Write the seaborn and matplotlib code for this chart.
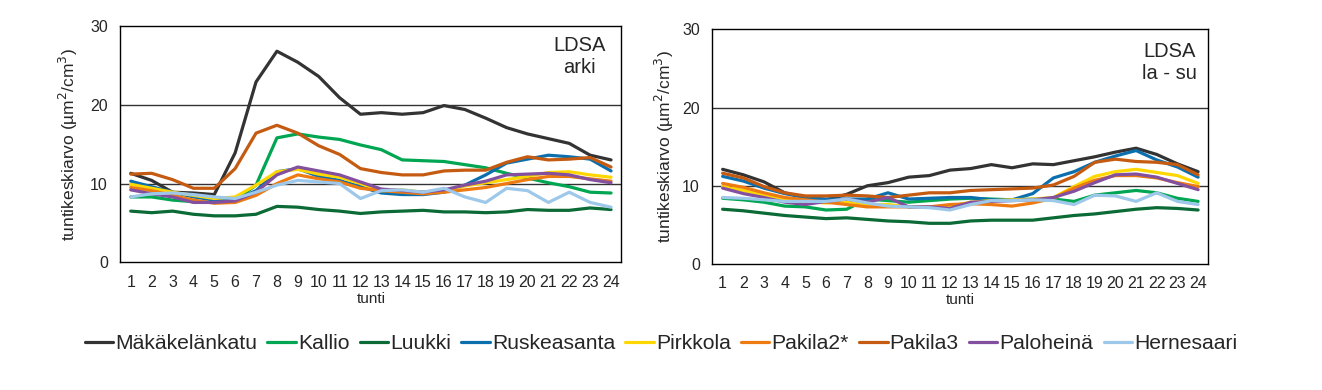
import pandas as pd
import matplotlib
matplotlib.use("Agg")
import matplotlib.pyplot as plt
import seaborn as sns

# hourly means, weekdays (arki) and weekends (la - su)
hours = list(range(1, 25))
stations = ["Mäkäkelänkatu", "Kallio", "Luukki", "Ruskeasanta", "Pirkkola",
            "Pakila2*", "Pakila3", "Paloheinä", "Hernesaari"]
colors = ["#333333", "#00a651", "#0b6a35", "#0b6fae", "#ffd700",
          "#ee7a12", "#c55a11", "#8350a0", "#9dc8ea"]

mak_arki = [11.3, 10.4, 8.9, 8.8, 8.6, 13.9, 22.9, 26.8, 25.4, 23.6, 20.9, 18.8,
            19.0, 18.8, 19.0, 19.9, 19.4, 18.3, 17.1, 16.3, 15.7, 15.1, 13.6, 13.0]
kallio_arki = [8.3, 8.3, 7.9, 7.7, 7.6, 7.9, 9.8, 15.8, 16.3, 15.9, 15.6, 14.9,
               14.3, 13.0, 12.9, 12.8, 12.4, 12.0, 11.3, 10.7, 10.1, 9.6, 8.9, 8.8]
luukki_arki = [6.5, 6.3, 6.5, 6.1, 5.9, 5.9, 6.1, 7.1, 7.0, 6.7, 6.5, 6.2,
               6.4, 6.5, 6.6, 6.4, 6.4, 6.3, 6.4, 6.7, 6.6, 6.6, 6.9, 6.7]
rusk_arki = [10.3, 9.6, 8.9, 8.3, 7.9, 7.9, 9.1, 11.5, 11.9, 10.9, 10.4, 9.6,
             8.8, 8.6, 8.6, 8.9, 9.8, 11.1, 12.6, 13.1, 13.6, 13.4, 13.1, 11.6]
pirk_arki = [9.9, 9.4, 8.9, 8.5, 8.1, 8.3, 9.8, 11.5, 11.8, 11.2, 10.8, 10.0,
             9.1, 9.2, 8.9, 9.0, 9.7, 10.1, 10.5, 10.9, 11.4, 11.5, 11.1, 10.8]
pak2_arki = [9.5, 9.1, 8.5, 7.9, 7.5, 7.6, 8.5, 10.0, 11.1, 10.6, 10.2, 9.4,
             9.1, 8.9, 8.7, 8.9, 9.2, 9.5, 10.0, 10.5, 10.9, 10.9, 10.6, 10.3]
pak3_arki = [11.2, 11.3, 10.5, 9.4, 9.4, 11.9, 16.4, 17.4, 16.4, 14.8, 13.7, 11.9,
             11.4, 11.1, 11.1, 11.6, 11.7, 11.7, 12.7, 13.4, 13.0, 13.1, 13.3, 12.1]
palo_arki = [9.2, 8.7, 8.3, 7.6, 7.6, 7.8, 8.9, 11.1, 12.1, 11.6, 11.1, 10.2,
             9.3, 9.1, 8.9, 9.2, 9.8, 10.3, 11.1, 11.2, 11.3, 11.1, 10.5, 10.1]
hern_arki = [8.3, 8.7, 8.8, 8.6, 8.3, 8.1, 8.9, 9.8, 10.4, 10.2, 10.0, 8.1,
             9.1, 9.2, 8.9, 9.4, 8.3, 7.6, 9.4, 9.1, 7.6, 8.9, 7.6, 7.0]

mak_we = [12.1, 11.4, 10.5, 9.1, 8.5, 8.2, 8.9, 10.0, 10.4, 11.1, 11.3, 12.0,
          12.2, 12.7, 12.3, 12.8, 12.7, 13.2, 13.7, 14.3, 14.8, 14.0, 12.8, 11.8]
kallio_we = [8.4, 8.2, 7.9, 7.4, 7.3, 6.9, 7.0, 8.3, 8.1, 7.9, 8.1, 8.3,
             8.4, 8.3, 8.2, 8.3, 8.3, 8.0, 8.8, 9.1, 9.4, 9.1, 8.4, 8.0]
luukki_we = [7.0, 6.8, 6.5, 6.2, 6.0, 5.8, 5.9, 5.7, 5.5, 5.4, 5.2, 5.2,
             5.5, 5.6, 5.6, 5.6, 5.9, 6.2, 6.4, 6.7, 7.0, 7.2, 7.1, 6.9]
rusk_we = [11.2, 10.6, 9.7, 9.0, 8.5, 8.3, 8.3, 8.3, 9.1, 8.3, 8.4, 8.5,
           8.5, 8.2, 8.2, 9.0, 11.0, 11.8, 13.0, 13.8, 14.5, 13.3, 12.4, 11.1]
pirk_we = [9.9, 9.4, 8.8, 8.3, 8.0, 7.8, 8.0, 7.6, 7.6, 7.3, 7.3, 7.4,
           7.9, 8.1, 8.2, 8.3, 8.5, 9.9, 11.2, 11.8, 12.1, 11.7, 11.3, 10.3]
pak2_we = [10.3, 9.8, 9.1, 8.5, 8.2, 7.9, 7.6, 7.3, 7.3, 7.3, 7.3, 7.6,
           7.7, 7.6, 7.4, 7.8, 8.4, 9.7, 10.7, 11.3, 11.3, 11.0, 10.4, 9.9]
pak3_we = [11.6, 11.0, 9.9, 9.1, 8.7, 8.7, 8.8, 8.7, 8.5, 8.8, 9.1, 9.1,
           9.4, 9.5, 9.6, 9.7, 10.1, 11.2, 13.0, 13.4, 13.1, 13.0, 12.7, 11.4]
palo_we = [9.7, 9.0, 8.5, 7.9, 7.6, 8.0, 8.3, 7.9, 8.5, 7.3, 7.3, 7.1,
           7.9, 8.0, 8.1, 8.2, 8.5, 9.3, 10.4, 11.4, 11.5, 11.1, 10.3, 9.5]
hern_we = [8.5, 8.4, 8.2, 8.0, 8.0, 8.0, 8.3, 7.8, 7.4, 7.3, 7.2, 6.9,
           7.6, 8.1, 8.1, 8.2, 8.1, 7.6, 8.8, 8.7, 8.0, 9.1, 8.0, 7.6]

arki = [mak_arki, kallio_arki, luukki_arki, rusk_arki, pirk_arki,
        pak2_arki, pak3_arki, palo_arki, hern_arki]
viikonloppu = [mak_we, kallio_we, luukki_we, rusk_we, pirk_we,
               pak2_we, pak3_we, palo_we, hern_we]


def long_frame(series):
    rows = []
    for name, vals in zip(stations, series):
        for h, v in zip(hours, vals):
            rows.append({"tunti": h, "asema": name, "arvo": v})
    return pd.DataFrame(rows)


sns.set_style("white")
plt.rcParams['font.family'] = ['Liberation Sans', 'DejaVu Sans']

fig = plt.figure(figsize=(13.22, 3.9), dpi=100)
ax1 = fig.add_axes([0.0910, 0.3274, 0.3791, 0.6059])
ax2 = fig.add_axes([0.5388, 0.3231, 0.3753, 0.6018])

panels = [(ax1, arki, "LDSA\narki", (0.969, 0.958), (-0.080, -0.125)),
          (ax2, viikonloppu, "LDSA\nla - su", (0.977, 0.947), (-0.073, -0.125))]

for ax, series, title, tpos, lpos in panels:
    df = long_frame(series)
    sns.lineplot(data=df, x="tunti", y="arvo", hue="asema", hue_order=stations,
                 palette=colors, linewidth=2.3, legend=False, ax=ax)
    ax.set_xlim(0.5, 24.5)
    ax.set_ylim(0, 30)
    ax.set_xticks(hours)
    ax.set_yticks([0, 10, 20, 30])
    ax.tick_params(axis='both', length=0, labelsize=11.5, pad=9)
    for y in (10, 20):
        ax.axhline(y, color="#333333", linewidth=1, zorder=0)
    for s in ax.spines.values():
        s.set_color("black")
        s.set_linewidth(1)
    ax.set_xlabel("tunti", fontsize=11)
    ax.set_ylabel("tuntikeskiarvo (µm$^2$/cm$^3$)", fontsize=12.5)
    ax.yaxis.set_label_coords(lpos[0], 0.5)
    ax.xaxis.set_label_coords(0.5, lpos[1])
    ax.text(tpos[0], tpos[1], title, transform=ax.transAxes, ha="right",
            va="top", multialignment="center", fontsize=14.5)

handles = ax1.get_lines()[:len(stations)]
fig.legend(handles, stations, loc="center", bbox_to_anchor=(0.5, 0.118),
           ncol=9, frameon=False, fontsize=15.2, handlelength=1.35,
           handletextpad=0.1, columnspacing=0.48)

fig.savefig("out.png", dpi=100)
